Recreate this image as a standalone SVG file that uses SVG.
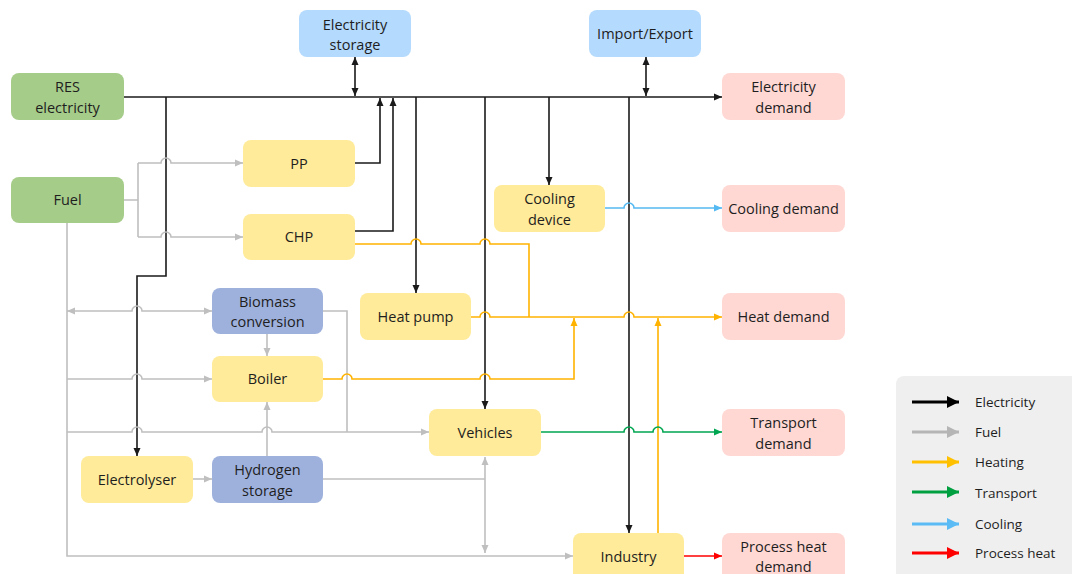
<svg xmlns="http://www.w3.org/2000/svg" width="1072" height="574" viewBox="0 0 1072 574">
<style>
.box{stroke:none}
.g{fill:#A6CC8A}.y{fill:#FFEB99}.p{fill:#FFD8D4}.lb{fill:#B4DAFE}.db{fill:#9EB1DD}
text{font-family:"Open Sans","Liberation Sans",sans-serif;font-size:14.5px;fill:#1e1e1e;text-anchor:middle}
.leg text{text-anchor:start;font-size:13.5px}
.c path{fill:none;stroke-width:1.6}
.el{stroke:#1a1a1a}.fu{stroke:#BFBFBF}.he{stroke:#FFB300}.tr{stroke:#00A651}.co{stroke:#55B9F2}.ph{stroke:#FF0000}
.leg path{fill:none;stroke-width:3}
</style>
<defs>
<marker id="aEl" viewBox="0 0 8 8" refX="8" refY="4" markerWidth="8" markerHeight="8" markerUnits="userSpaceOnUse" orient="auto-start-reverse"><path d="M0,0.5L8,4L0,7.5z" fill="#1a1a1a"/></marker>
<marker id="aFu" viewBox="0 0 8 8" refX="8" refY="4" markerWidth="8" markerHeight="8" markerUnits="userSpaceOnUse" orient="auto-start-reverse"><path d="M0,0.5L8,4L0,7.5z" fill="#BFBFBF"/></marker>
<marker id="aHe" viewBox="0 0 8 8" refX="8" refY="4" markerWidth="8" markerHeight="8" markerUnits="userSpaceOnUse" orient="auto-start-reverse"><path d="M0,0.5L8,4L0,7.5z" fill="#FFB300"/></marker>
<marker id="aTr" viewBox="0 0 8 8" refX="8" refY="4" markerWidth="8" markerHeight="8" markerUnits="userSpaceOnUse" orient="auto-start-reverse"><path d="M0,0.5L8,4L0,7.5z" fill="#00A651"/></marker>
<marker id="aCo" viewBox="0 0 8 8" refX="8" refY="4" markerWidth="8" markerHeight="8" markerUnits="userSpaceOnUse" orient="auto-start-reverse"><path d="M0,0.5L8,4L0,7.5z" fill="#55B9F2"/></marker>
<marker id="aPh" viewBox="0 0 8 8" refX="8" refY="4" markerWidth="8" markerHeight="8" markerUnits="userSpaceOnUse" orient="auto-start-reverse"><path d="M0,0.5L8,4L0,7.5z" fill="#FF0000"/></marker>
<marker id="lEl" viewBox="0 0 10 10" refX="10" refY="5" markerWidth="12" markerHeight="12" markerUnits="userSpaceOnUse" orient="auto"><path d="M0,0L10,5L0,10z" fill="#000"/></marker>
<marker id="lFu" viewBox="0 0 10 10" refX="10" refY="5" markerWidth="12" markerHeight="12" markerUnits="userSpaceOnUse" orient="auto"><path d="M0,0L10,5L0,10z" fill="#B5B5B5"/></marker>
<marker id="lHe" viewBox="0 0 10 10" refX="10" refY="5" markerWidth="12" markerHeight="12" markerUnits="userSpaceOnUse" orient="auto"><path d="M0,0L10,5L0,10z" fill="#FFC000"/></marker>
<marker id="lTr" viewBox="0 0 10 10" refX="10" refY="5" markerWidth="12" markerHeight="12" markerUnits="userSpaceOnUse" orient="auto"><path d="M0,0L10,5L0,10z" fill="#00A040"/></marker>
<marker id="lCo" viewBox="0 0 10 10" refX="10" refY="5" markerWidth="12" markerHeight="12" markerUnits="userSpaceOnUse" orient="auto"><path d="M0,0L10,5L0,10z" fill="#5BBBF5"/></marker>
<marker id="lPh" viewBox="0 0 10 10" refX="10" refY="5" markerWidth="12" markerHeight="12" markerUnits="userSpaceOnUse" orient="auto"><path d="M0,0L10,5L0,10z" fill="#FF0000"/></marker>
</defs>
<rect width="1072" height="574" fill="#fff"/>

<g id="connectors" class="c">
<!-- electricity -->
<path class="el" d="M124 97H722" marker-end="url(#aEl)"/>
<path class="el" d="M355 57V96" marker-start="url(#aEl)" marker-end="url(#aEl)"/>
<path class="el" d="M646 57V96" marker-start="url(#aEl)" marker-end="url(#aEl)"/>
<path class="el" d="M355 163H380V98" marker-end="url(#aEl)"/>
<path class="el" d="M355 231H393V98" marker-end="url(#aEl)"/>
<path class="el" d="M166 97V276H137V456" marker-end="url(#aEl)"/>
<path class="el" d="M416 97V293" marker-end="url(#aEl)"/>
<path class="el" d="M485 97V409" marker-end="url(#aEl)"/>
<path class="el" d="M549 97V185" marker-end="url(#aEl)"/>
<path class="el" d="M629 97V533" marker-end="url(#aEl)"/>
<!-- fuel -->
<path class="fu" d="M124 200H138M138 163V237"/>
<path class="fu" d="M138 163H161A5 5 0 0 1 171 163H243" marker-end="url(#aFu)"/>
<path class="fu" d="M138 237H161A5 5 0 0 1 171 237H243" marker-end="url(#aFu)"/>
<path class="fu" d="M67 223V556H573" marker-end="url(#aFu)"/>
<path class="fu" d="M67 311H132A5 5 0 0 1 142 311H212" marker-start="url(#aFu)" marker-end="url(#aFu)"/>
<path class="fu" d="M67 379H132A5 5 0 0 1 142 379H212" marker-end="url(#aFu)"/>
<path class="fu" d="M67 432H132A5 5 0 0 1 142 432H262A5 5 0 0 1 272 432H429" marker-end="url(#aFu)"/>
<path class="fu" d="M323 311H347V432"/>
<path class="fu" d="M267 334V356" marker-end="url(#aFu)"/>
<path class="fu" d="M267 456V402" marker-end="url(#aFu)"/>
<path class="fu" d="M193 479H212" marker-end="url(#aFu)"/>
<path class="fu" d="M323 479H485"/>
<path class="fu" d="M485 457V553" marker-start="url(#aFu)" marker-end="url(#aFu)"/>
<!-- heating -->
<path class="he" d="M355 244H411A5 5 0 0 1 421 244H480A5 5 0 0 1 490 244H529V317"/>
<path class="he" d="M471 317H480A5 5 0 0 1 490 317H624A5 5 0 0 1 634 317H722" marker-end="url(#aHe)"/>
<path class="he" d="M323 379H342A5 5 0 0 1 352 379H480A5 5 0 0 1 490 379H574V318" marker-end="url(#aHe)"/>
<path class="he" d="M658 533V318" marker-end="url(#aHe)"/>
<!-- transport -->
<path class="tr" d="M541 432H624A5 5 0 0 1 634 432H653A5 5 0 0 1 663 432H722" marker-end="url(#aTr)"/>
<!-- cooling -->
<path class="co" d="M605 208H624A5 5 0 0 1 634 208H722" marker-end="url(#aCo)"/>
<!-- process heat -->
<path class="ph" d="M684 556H722" marker-end="url(#aPh)"/>
</g>

<g id="n-elec-storage"><rect class="box lb" x="299" y="10" width="112" height="47" rx="8"/><text x="355" y="29.5">Electricity</text><text x="355" y="50">storage</text></g>
<g id="n-import-export"><rect class="box lb" x="589" y="10" width="112" height="47" rx="8"/><text x="645" y="39">Import/Export</text></g>
<g id="n-res"><rect class="box g" x="11" y="73" width="113" height="47" rx="8"/><text x="67.5" y="92">RES</text><text x="67.5" y="112.5">electricity</text></g>
<g id="n-fuel"><rect class="box g" x="11" y="177" width="113" height="46" rx="8"/><text x="67.5" y="205">Fuel</text></g>
<g id="n-pp"><rect class="box y" x="243" y="140" width="112" height="47" rx="8"/><text x="299" y="168.5">PP</text></g>
<g id="n-chp"><rect class="box y" x="243" y="214" width="112" height="46" rx="8"/><text x="299" y="242">CHP</text></g>
<g id="n-cooling-device"><rect class="box y" x="494" y="185" width="111" height="47" rx="8"/><text x="549.5" y="204">Cooling</text><text x="549.5" y="224.5">device</text></g>
<g id="n-heat-pump"><rect class="box y" x="360" y="293" width="111" height="47" rx="8"/><text x="415.5" y="321.5">Heat pump</text></g>
<g id="n-biomass"><rect class="box db" x="212" y="288" width="111" height="46" rx="8"/><text x="267.5" y="306.5">Biomass</text><text x="267.5" y="327">conversion</text></g>
<g id="n-boiler"><rect class="box y" x="212" y="356" width="111" height="46" rx="8"/><text x="267.5" y="384">Boiler</text></g>
<g id="n-electrolyser"><rect class="box y" x="81" y="456" width="112" height="47" rx="8"/><text x="137" y="484.5">Electrolyser</text></g>
<g id="n-hydrogen"><rect class="box db" x="212" y="456" width="111" height="47" rx="8"/><text x="267.5" y="475">Hydrogen</text><text x="267.5" y="495.5">storage</text></g>
<g id="n-vehicles"><rect class="box y" x="429" y="409" width="112" height="47" rx="8"/><text x="485" y="437.5">Vehicles</text></g>
<g id="n-industry"><rect class="box y" x="573" y="533" width="111" height="50" rx="8"/><text x="628.5" y="561.5">Industry</text></g>
<g id="n-elec-demand"><rect class="box p" x="722" y="73" width="123" height="47" rx="8"/><text x="783.5" y="92">Electricity</text><text x="783.5" y="112.5">demand</text></g>
<g id="n-cooling-demand"><rect class="box p" x="722" y="185" width="123" height="47" rx="8"/><text x="783.5" y="213.5">Cooling demand</text></g>
<g id="n-heat-demand"><rect class="box p" x="722" y="293" width="123" height="47" rx="8"/><text x="783.5" y="321.5">Heat demand</text></g>
<g id="n-transport-demand"><rect class="box p" x="722" y="409" width="123" height="47" rx="8"/><text x="783.5" y="428">Transport</text><text x="783.5" y="448.5">demand</text></g>
<g id="n-process-demand"><rect class="box p" x="722" y="533" width="123" height="50" rx="8"/><text x="783.5" y="551.5">Process heat</text><text x="783.5" y="572">demand</text></g>

<g id="legend" class="leg">
<rect x="896" y="376" width="190" height="210" rx="8" fill="#EFEFEF"/>
<path d="M912 402H959" stroke="#000" marker-end="url(#lEl)"/><text x="975" y="406.5">Electricity</text>
<path d="M912 432H959" stroke="#B5B5B5" marker-end="url(#lFu)"/><text x="975" y="437">Fuel</text>
<path d="M912 462H959" stroke="#FFC000" marker-end="url(#lHe)"/><text x="975" y="467">Heating</text>
<path d="M912 492H959" stroke="#00A040" marker-end="url(#lTr)"/><text x="975" y="498">Transport</text>
<path d="M912 524H959" stroke="#5BBBF5" marker-end="url(#lCo)"/><text x="975" y="529">Cooling</text>
<path d="M912 553H959" stroke="#FF0000" marker-end="url(#lPh)"/><text x="975" y="558">Process heat</text>
</g>
</svg>
